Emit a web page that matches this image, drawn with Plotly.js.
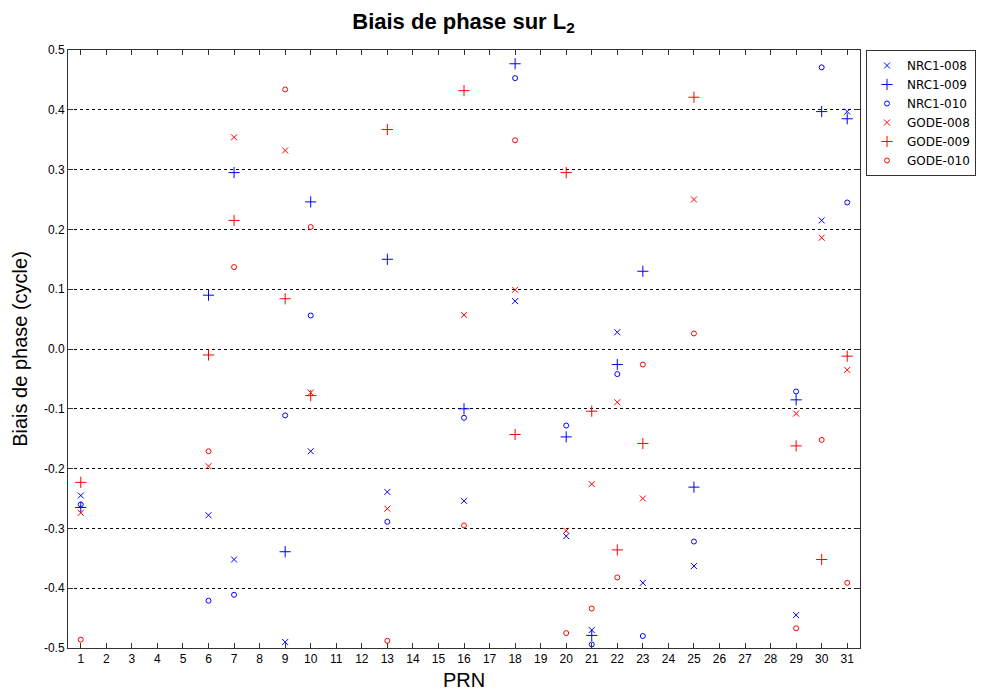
<!DOCTYPE html>
<html>
<head>
<meta charset="utf-8">
<script src="https://cdn.plot.ly/plotly-3.0.1.min.js"></script>
<style>html,body{margin:0;padding:0;background:#fff;}#chart{width:981px;height:694px;}</style>
</head>
<body>
<div id="chart"></div>
<script>
const prn = [1, 6, 7, 9, 10, 13, 16, 18, 20, 21, 22, 23, 25, 29, 30, 31];
const nrc1_008 = [-0.245, -0.278, -0.352, -0.490, -0.171, -0.239, -0.254, 0.080, -0.313, -0.470, 0.028, -0.391, -0.363, -0.445, 0.215, 0.397];
const nrc1_009 = [-0.265, 0.090, 0.295, -0.339, 0.246, 0.150, -0.100, 0.477, -0.147, -0.479, -0.026, 0.130, -0.231, -0.085, 0.397, 0.385];
const nrc1_010 = [-0.260, -0.421, -0.411, -0.111, 0.056, -0.289, -0.115, 0.453, -0.128, -0.494, -0.042, -0.480, -0.322, -0.071, 0.471, 0.245];
const gode_008 = [-0.274, -0.196, 0.354, 0.332, -0.073, -0.267, 0.057, 0.099, -0.304, -0.226, -0.089, -0.250, 0.250, -0.108, 0.186, -0.035];
const gode_009 = [-0.223, -0.010, 0.215, 0.084, -0.078, 0.367, 0.432, -0.143, 0.295, -0.104, -0.336, -0.158, 0.421, -0.162, -0.352, -0.012];
const gode_010 = [-0.486, -0.171, 0.137, 0.434, 0.204, -0.488, -0.295, 0.349, -0.475, -0.434, -0.382, -0.026, 0.026, -0.467, -0.152, -0.391];
const xTicks = Array.from({length: 31}, (_, i) => i + 1);
const yTicks = [-0.5, -0.4, -0.3, -0.2, -0.1, 0, 0.1, 0.2, 0.3, 0.4, 0.5];

const BLUE = '#0000ff', RED = '#ff0000';
function tr(name, y, color, sym) {
  const sizes = {x: 6, cross: 8, circle: 5};
  const symbols = {x: 'x-thin-open', cross: 'cross-thin-open', circle: 'circle-open'};
  return {
    type: 'scatter', mode: 'markers', name: name, x: prn, y: y,
    marker: {symbol: symbols[sym], size: sizes[sym], color: color, line: {color: color, width: 1}}
  };
}
const data = [
  tr('NRC1-008', nrc1_008, BLUE, 'x'),
  tr('NRC1-009', nrc1_009, BLUE, 'cross'),
  tr('NRC1-010', nrc1_010, BLUE, 'circle'),
  tr('GODE-008', gode_008, RED, 'x'),
  tr('GODE-009', gode_009, RED, 'cross'),
  tr('GODE-010', gode_010, RED, 'circle')
];
const FONT = 'Liberation Sans, Arial, sans-serif';
const layout = {
  width: 981, height: 694,
  margin: {l: 68, r: 121, t: 50, b: 46, autoexpand: false},
  paper_bgcolor: '#fff', plot_bgcolor: '#fff',
  font: {family: FONT, size: 12, color: '#000'},
  showlegend: true,
  title: {text: '<b>Biais de phase sur L<sub>2</sub></b>', x: 0.4725, xanchor: 'center', y: 0.97, yanchor: 'middle', font: {size: 22, family: FONT}},
  xaxis: {
    range: [0.5, 31.5], tickvals: xTicks, ticktext: xTicks.map(String),
    ticks: 'inside', ticklen: 5, tickcolor: '#333', showline: true, linecolor: '#333', linewidth: 1, mirror: 'ticks',
    showgrid: false, zeroline: false, tickfont: {size: 12}, automargin: false,
    title: {text: 'PRN', font: {size: 20}, standoff: 7}
  },
  yaxis: {
    range: [-0.5, 0.5], tickvals: yTicks, ticktext: yTicks.map(v => v.toFixed(1)),
    ticks: 'inside', ticklen: 5, tickcolor: '#333', showline: true, linecolor: '#333', linewidth: 1, mirror: 'ticks',
    showgrid: true, gridcolor: '#000', gridwidth: 1, griddash: '3px,3px', zeroline: false, tickfont: {size: 12}, automargin: false,
    title: {text: 'Biais de phase (cycle)', font: {size: 20}, standoff: 10}
  },
  legend: {
    x: 1.0076, xanchor: 'left', y: 1, yanchor: 'top',
    bordercolor: '#333', borderwidth: 1, bgcolor: '#fff',
    font: {size: 12, family: 'DejaVu Sans, sans-serif'}, tracegroupgap: 0, itemwidth: 30
  }
};
Plotly.newPlot('chart', data, layout, {displayModeBar: false, staticPlot: true});
</script>
</body>
</html>
